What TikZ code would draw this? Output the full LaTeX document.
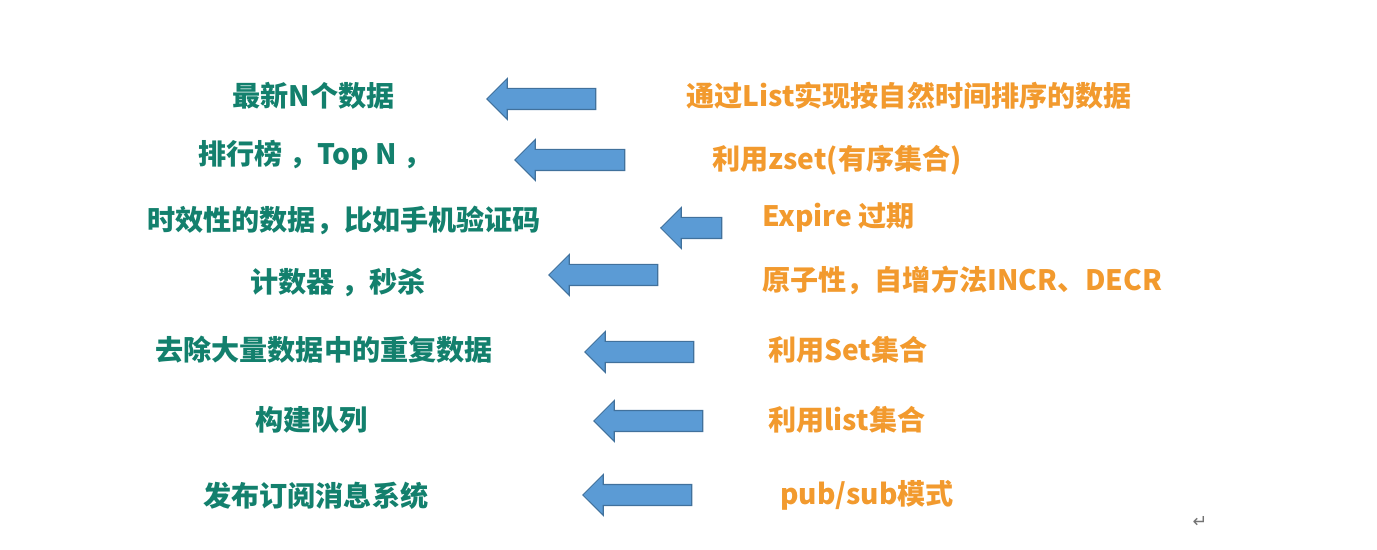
\documentclass[tikz,border=0pt]{standalone}
\usepackage{fontspec}
\setmainfont{Noto Sans CJK SC}
\newfontfamily\symfont{DejaVu Sans}
\usetikzlibrary{shapes.arrows}
\definecolor{usegreen}{HTML}{13806D}
\definecolor{howorange}{HTML}{F29A2E}
\definecolor{arrowfill}{HTML}{5B9BD5}
\definecolor{arrowline}{HTML}{41719C}
\begin{document}
\begin{tikzpicture}[x=0.02cm,y=-0.02cm,
  usecase/.style={anchor=west,inner sep=0pt,text=usegreen,font=\fontsize{16}{19}\selectfont\bfseries},
  howto/.style={anchor=west,inner sep=0pt,text=howorange,font=\fontsize{16}{19}\selectfont\bfseries},
  leftarrow/.style={single arrow,shape border rotate=180,inner xsep=0pt,inner ysep=0.2cm,
      single arrow head extend=0.2cm,single arrow head indent=0pt,
      fill=arrowfill,draw=arrowline,line width=0.6pt}]
  \useasboundingbox (0,0) rectangle (1377,550);
  % what redis is used for
  \node[usecase] (u1) at (232,96)  {最新N个数据};
  \node[usecase] (u2) at (198,155) {排行榜 ，Top N ，};
  \node[usecase] (u3) at (147,220) {时效性的数据，比如手机验证码};
  \node[usecase] (u4) at (250,283) {计数器 ，秒杀};
  \node[usecase] (u5) at (155,350) {去除大量数据中的重复数据};
  \node[usecase] (u6) at (255,420) {构建队列};
  \node[usecase] (u7) at (203,496) {发布订阅消息系统};
  % block arrows
  \node[leftarrow,minimum height=2.18cm] (a1) at (546.5,99) {};
  \node[leftarrow,minimum height=2.2cm]  (a2) at (575,160) {};
  \node[leftarrow,minimum height=1.22cm] (a3) at (696.5,228) {};
  \node[leftarrow,minimum height=2.18cm] (a4) at (608.5,275) {};
  \node[leftarrow,minimum height=2.18cm] (a5) at (644.5,352) {};
  \node[leftarrow,minimum height=2.18cm] (a6) at (653.5,421) {};
  \node[leftarrow,minimum height=2.18cm] (a7) at (642.5,495) {};
  % how it is done
  \node[howto] (h1) at (686,96)  {通过List实现按自然时间排序的数据};
  \node[howto] (h2) at (712,160) {利用zset(有序集合)};
  \node[howto] (h3) at (762,218) {Expire 过期};
  \node[howto] (h4) at (762,280) {原子性，自增方法INCR、DECR};
  \node[howto] (h5) at (768,350) {利用Set集合};
  \node[howto] (h6) at (768,420) {利用list集合};
  \node[howto] (h7) at (780,495) {pub/sub模式};
  \node[text=black!55,font=\symfont\normalsize] (ret) at (1200,522) {↵};
\end{tikzpicture}
\end{document}
